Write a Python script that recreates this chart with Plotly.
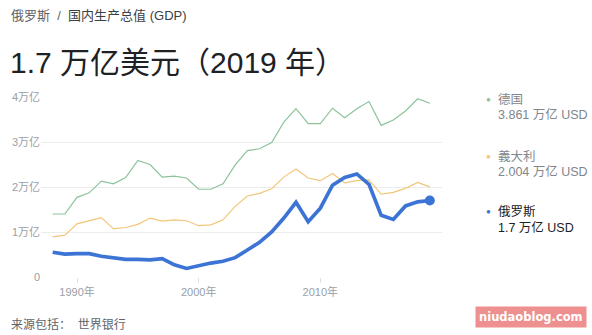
import plotly.graph_objects as go

years = list(range(1988, 2020))

germany = [1.40, 1.40, 1.77, 1.87, 2.13, 2.07, 2.21, 2.59, 2.50, 2.22, 2.24, 2.20,
           1.95, 1.95, 2.07, 2.49, 2.81, 2.85, 2.99, 3.44, 3.74, 3.41, 3.41, 3.75,
           3.54, 3.74, 3.90, 3.37, 3.49, 3.69, 3.96, 3.861]
italy = [0.89, 0.93, 1.18, 1.25, 1.32, 1.07, 1.10, 1.17, 1.31, 1.24, 1.27, 1.25,
         1.14, 1.16, 1.27, 1.57, 1.80, 1.86, 1.96, 2.22, 2.40, 2.20, 2.14, 2.30,
         2.09, 2.14, 2.16, 1.84, 1.88, 1.97, 2.10, 2.004]
russia = [0.55, 0.51, 0.52, 0.52, 0.46, 0.43, 0.39, 0.39, 0.38, 0.41, 0.27, 0.19,
          0.26, 0.31, 0.35, 0.43, 0.60, 0.77, 1.00, 1.31, 1.66, 1.23, 1.53, 2.04,
          2.21, 2.29, 2.06, 1.37, 1.28, 1.58, 1.67, 1.70]

series_names = ["德国", "義大利", "俄罗斯"]
series_values = ["3.861 万亿 USD", "2.004 万亿 USD", "1.7 万亿 USD"]
series_colors = ["#8cc39b", "#f2c679", "#3c74d6"]

y_tickvals = [0, 1, 2, 3, 4]
y_ticktext = ["0", "1万亿", "2万亿", "3万亿", "4万亿"]
x_tickvals = [1990, 2000, 2010]
x_ticktext = ["1990年", "2000年", "2010年"]

FONT = "Liberation Sans, Arial, Noto Sans CJK SC, sans-serif"

fig = go.Figure()
fig.add_trace(go.Scatter(x=years, y=germany, mode="lines",
                         line=dict(color=series_colors[0], width=1.2), hoverinfo="skip"))
fig.add_trace(go.Scatter(x=years, y=italy, mode="lines",
                         line=dict(color=series_colors[1], width=1.2), hoverinfo="skip"))
fig.add_trace(go.Scatter(x=years, y=russia, mode="lines",
                         line=dict(color=series_colors[2], width=3.7), hoverinfo="skip"))
fig.add_trace(go.Scatter(x=[years[-1]], y=[russia[-1]], mode="markers",
                         marker=dict(color=series_colors[2], size=10), hoverinfo="skip",
                         cliponaxis=False))

annotations = []


def px_ann(x, y, text, size, color, xanchor="left", yanchor="middle", **kw):
    annotations.append(dict(
        xref="paper", yref="paper",
        x=(x - 37) / (442 - 37), y=(277.3 - y) / (277.3 - 96.7),
        text=text, showarrow=False, xanchor=xanchor, yanchor=yanchor,
        font=dict(size=size, color=color, family=kw.pop("family", FONT)), **kw))


px_ann(5, 15, "<span style='color:#5f6368'>俄罗斯</span>"
       "<span style='color:#5f6368'>  /  </span>"
       "<span style='color:#3c4043'>国内生产总值 (GDP)</span>", 13, "#3c4043")
px_ann(4, 62, "1.7 万亿美元（2019 年）", 30, "#202124")
px_ann(5, 325, "来源包括：  世界银行", 12, "#5f6368")

legend_y = [(99, 114), (156, 171), (212, 228)]
for i in range(3):
    ny, vy = legend_y[i]
    dark = i == 2
    px_ann(484, ny, "●", 8, series_colors[i])
    px_ann(497, ny, series_names[i], 12.5, "#202124" if dark else "#80868b")
    px_ann(497, vy, series_values[i], 12.5, "#202124" if dark else "#80868b")

# watermark
px_ann(531.5, 317.5, "<b>niudaoblog.com</b>", 11.5, "#ffffff", xanchor="center",
       bgcolor="#ee9090", borderpad=3, family="DejaVu Sans, sans-serif")

fig.update_layout(
    width=592, height=335,
    margin=dict(l=37, r=150, t=96.7, b=57.7),
    paper_bgcolor="white", plot_bgcolor="white",
    showlegend=False,
    font=dict(family=FONT),
    annotations=annotations,
    xaxis=dict(range=[1987.04, 2020.0], tickvals=x_tickvals, ticktext=x_ticktext,
               showgrid=False, zeroline=False, showline=False,
               ticks="outside", ticklen=5, tickcolor="#e0e0e0",
               tickfont=dict(size=11, color="#9aa0a6"), fixedrange=True),
    yaxis=dict(range=[0, 4], tickvals=y_tickvals, ticktext=y_ticktext,
               showgrid=True, gridcolor="#ececec", gridwidth=1,
               zeroline=False, showline=False, ticks="",
               tickfont=dict(size=11, color="#9aa0a6"), fixedrange=True),
)

fig.write_html("out.html", config={"displayModeBar": False})
